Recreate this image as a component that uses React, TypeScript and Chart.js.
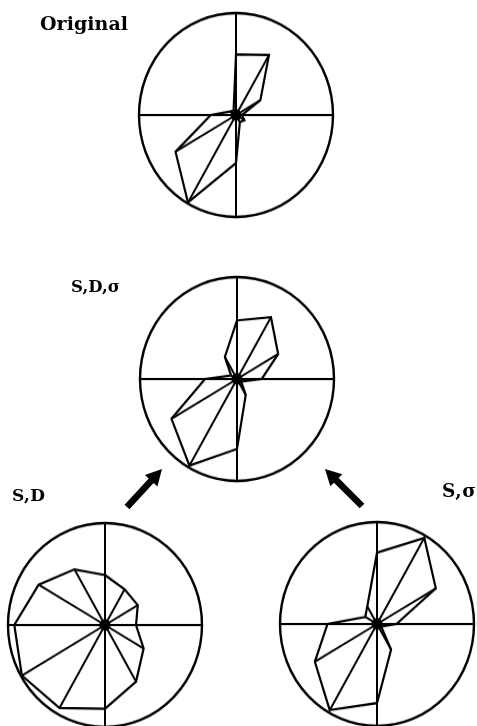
import React, { useEffect, useRef } from 'react';
import { Chart, registerables } from 'chart.js';

Chart.register(...registerables);

// Twelve 30° sectors, clockwise from north.
const directions = ['0°', '30°', '60°', '90°', '120°', '150°', '180°', '210°', '240°', '270°', '300°', '330°'];

// Sector lengths as a percentage of the outer circle.
const originalValues = [59.5, 68, 29, 6, 10, 8, 47, 99, 72, 26, 7, 5];
const sdSigmaValues = [57.5, 70, 49, 25.5, 5, 18, 68.5, 98, 78, 33, 7, 25];
const sdValues = [49, 40.5, 39, 32, 46, 64, 82, 94, 99, 93.5, 79, 63];
const sSigmaValues = [70, 97.5, 70, 20, 5, 29, 77.5, 97.5, 74, 51, 14, 20];

const scaleMax = 100;

const INK = '#000';
const SIZE = 200;
const PAD = 3;

type RoseProps = { values: number[]; cx: number; cy: number };

function Rose({ values, cx, cy }: RoseProps) {
  const ref = useRef<HTMLCanvasElement>(null);

  useEffect(() => {
    if (!ref.current) return;
    // one spoke per sector: zero everywhere except its own sector
    const spokes = values.map((v, i) => ({
      data: values.map((_, j) => (j === i ? v : 0)),
      borderColor: INK,
      borderWidth: 2,
      fill: false,
      pointRadius: 0,
    }));
    // the hub where all spokes meet
    const hub = {
      data: values.map(() => 0),
      borderColor: INK,
      borderWidth: 0,
      fill: false,
      pointRadius: 4.8,
      pointStyle: 'circle',
      pointBackgroundColor: INK,
      pointBorderColor: INK,
      pointBorderWidth: 1,
    };
    const chart = new Chart(ref.current, {
      type: 'radar',
      data: {
        labels: directions,
        datasets: [
          {
            data: values,
            borderColor: INK,
            borderWidth: 2.2,
            fill: false,
            pointRadius: 0,
          },
          ...spokes,
          hub,
        ],
      },
      options: {
        animation: false,
        responsive: false,
        events: [],
        layout: { padding: PAD },
        plugins: { legend: { display: false }, tooltip: { enabled: false } },
        scales: {
          r: {
            min: 0,
            max: scaleMax,
            ticks: { display: false, stepSize: scaleMax },
            grid: { circular: true, color: INK, lineWidth: 2.4 },
            angleLines: {
              color: INK,
              lineWidth: (c: any) => (c.index % 3 === 0 ? 2 : 0),
            },
            pointLabels: { display: false },
          },
        },
      } as any,
    });
    return () => chart.destroy();
  }, [values]);

  return (
    <div
      style={{
        position: 'absolute',
        left: cx - SIZE / 2,
        top: cy - SIZE / 2,
        width: SIZE,
        height: SIZE,
        transform: 'scaleY(1.0515)',
      }}
    >
      <canvas ref={ref} width={SIZE} height={SIZE} style={{ display: 'block' }} />
    </div>
  );
}

function arrowPoints(tx: number, ty: number, px: number, py: number) {
  const len = Math.hypot(px - tx, py - ty);
  const ux = (px - tx) / len;
  const uy = (py - ty) / len;
  const nx = -uy;
  const ny = ux;
  const w = 3.3;
  const hw = 8.5;
  const h = 16;
  const bx = px - ux * h;
  const by = py - uy * h;
  const pts = [
    [tx + nx * w, ty + ny * w],
    [bx + nx * w, by + ny * w],
    [bx + nx * hw, by + ny * hw],
    [px, py],
    [bx - nx * hw, by - ny * hw],
    [bx - nx * w, by - ny * w],
    [tx - nx * w, ty - ny * w],
  ];
  return pts.map((p) => p.join(',')).join(' ');
}

const labelFont = {
  fontFamily: '"DejaVu Serif", serif',
  fontWeight: 700,
  fill: INK,
} as const;

export default function App() {
  return (
    <div
      style={{
        position: 'fixed',
        left: 0,
        top: 0,
        width: 477,
        height: 726,
        overflow: 'hidden',
        background: '#fff',
      }}
    >
      <Rose values={originalValues} cx={236} cy={115} />
      <Rose values={sdSigmaValues} cx={237} cy={379} />
      <Rose values={sdValues} cx={105} cy={625} />
      <Rose values={sSigmaValues} cx={377} cy={624} />
      <svg
        width={477}
        height={726}
        style={{ position: 'absolute', left: 0, top: 0, pointerEvents: 'none' }}
      >
        <text x={40} y={30} textLength={88} lengthAdjust="spacing" style={{ ...labelFont, fontSize: 19 }}>
          Original
        </text>
        <text x={71} y={292} textLength={49} lengthAdjust="spacing" style={{ ...labelFont, fontSize: 16.5 }}>
          S,D,σ
        </text>
        <text x={12} y={501} textLength={33} lengthAdjust="spacing" style={{ ...labelFont, fontSize: 17 }}>
          S,D
        </text>
        <text x={442} y={497} textLength={34} lengthAdjust="spacing" style={{ ...labelFont, fontSize: 18.5 }}>
          S,σ
        </text>
        <polygon points={arrowPoints(127, 507, 162, 469)} fill={INK} />
        <polygon points={arrowPoints(362, 506, 325, 469)} fill={INK} />
      </svg>
    </div>
  );
}
